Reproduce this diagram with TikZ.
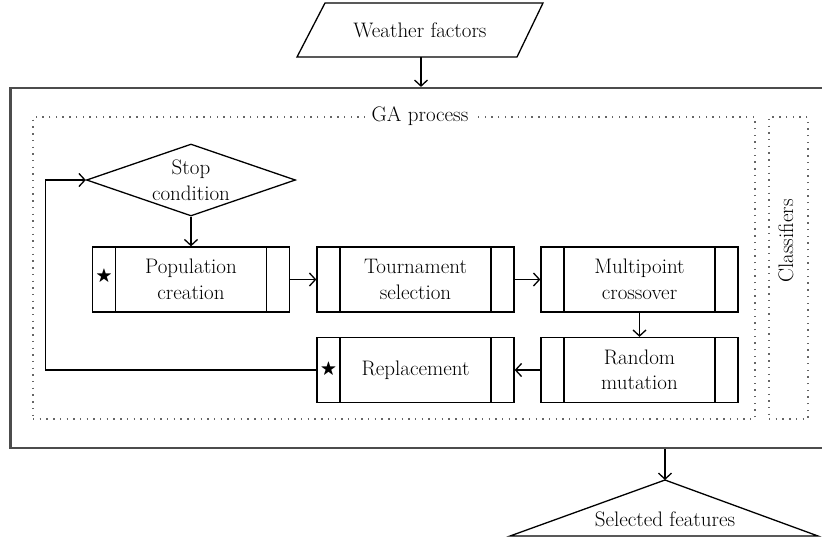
\documentclass[tikz,border=0pt]{standalone}
\usepackage{amssymb}
\usetikzlibrary{shapes.geometric, arrows.meta}

\tikzset{
  every node/.style={font=\fontsize{21}{25.5}\selectfont},
  flow/.style={draw, line width=1.3pt},
  procbox/.style={flow, minimum width=197pt, minimum height=65pt, align=center, inner sep=0pt,
    path picture={
      \draw[line width=1.3pt] ([xshift=23pt]path picture bounding box.north west) -- ([xshift=23pt]path picture bounding box.south west);
      \draw[line width=1.3pt] ([xshift=-23pt]path picture bounding box.north east) -- ([xshift=-23pt]path picture bounding box.south east);
    }},
  dotbox/.style={draw=black!60, line width=1.4pt, dash pattern=on 1.4pt off 5.3pt, minimum height=302pt, inner sep=0pt},
  framebox/.style={draw=black!70, line width=2.2pt, inner sep=0pt},
  conn/.style={line width=1.3pt, -{Straight Barb[length=6pt,width=13pt]}},
  starmark/.style={scale=0.8, inner sep=0pt},
}

\begin{document}
\begin{tikzpicture}[x=1pt, y=-1pt]

    \useasboundingbox (0,0) rectangle (822,542);
    \clip (0,0) rectangle (822,542);

    % Input and outer frame
    \draw[flow] (325,3) -- (543,3) -- (517,57) -- (297,57) -- cycle;
    \node (weather) at (420,30) {Weather factors};
    \coordinate (wbottom) at (421,57);
    \node[framebox, minimum width=840pt, minimum height=360pt] (frame) at (430.5,268) {};

    % Dotted groups
    \node[dotbox, minimum width=722pt] (ga) at (394,268) {};
    \node[fill=white, inner xsep=7pt, inner ysep=2pt] (gatitle) at (420,116) {GA process};
    \node[dotbox, minimum width=39pt] (clsbox) at (788.5,268) {};
    \node[rotate=90] (cls) at (786,241) {Classifiers};

    % GA steps
    \node[flow, diamond, minimum width=209pt, minimum height=72pt, inner sep=0pt,
          label={[align=center]center:Stop\\condition}] (stop) at (191,180) {};
    \node[procbox] (pop) at (191,279.5) {Population\\creation};
    \node[procbox] (tour) at (415.5,279.5) {Tournament\\selection};
    \node[procbox] (multi) at (639.5,279.5) {Multipoint\\crossover};
    \node[procbox] (rand) at (639.5,370) {Random\\mutation};
    \node[procbox] (repl) at (415.5,370) {Replacement};
    \node[starmark] (popstar) at (104,276) {$\bigstar$};
    \node[starmark] (replstar) at (328.5,369) {$\bigstar$};

    % Output
    \draw[flow] (510,536) -- (665,480) -- (818,536) -- cycle;
    \coordinate (apex) at (665,480);
    \node (sel) at (665,519) {Selected features};

    % Connectors
    \draw[conn] (wbottom) -- (wbottom |- frame.north);
    \draw[conn] (stop.south) -- (pop.north);
    \draw[conn] (pop.east) -- (tour.west);
    \draw[conn] (tour.east) -- (multi.west);
    \draw[conn] (multi.south) -- (rand.north);
    \draw[conn] (rand.west) -- (repl.east);
    \draw[conn] (repl.west) -- ++(-271,0) |- (stop.west);
    \draw[conn] (apex |- frame.south) -- (apex);

\end{tikzpicture}
\end{document}
